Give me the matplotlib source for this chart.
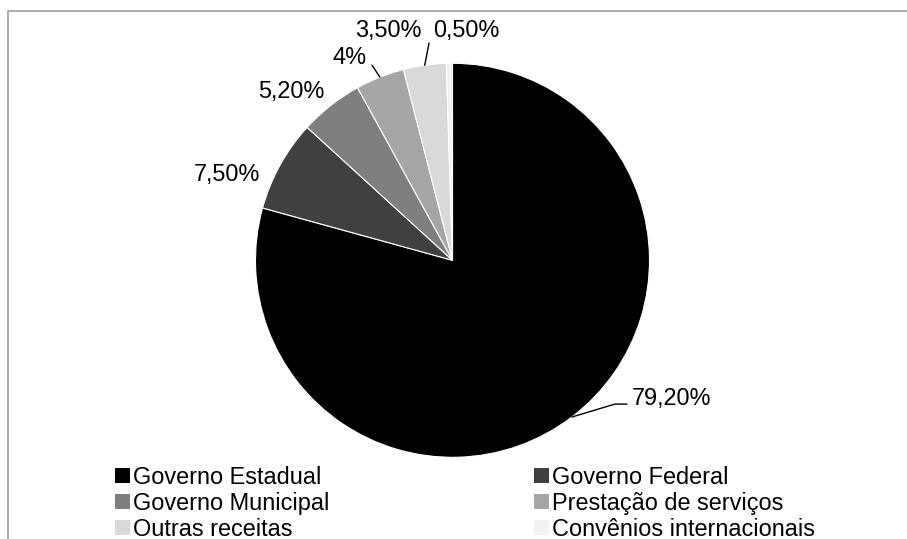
import matplotlib
matplotlib.use("Agg")
import matplotlib.pyplot as plt
from matplotlib.patches import Patch, Rectangle
import numpy as np

plt.rcParams['font.family'] = ['Liberation Sans', 'DejaVu Sans']

categories = ["Governo Estadual", "Governo Federal", "Governo Municipal",
              "Prestação de serviços", "Outras receitas", "Convênios internacionais"]
values = [79.2, 7.5, 5.2, 4.0, 3.5, 0.5]
value_labels = ["79,20%", "7,50%", "5,20%", "4%", "3,50%", "0,50%"]
colors = ["#000000", "#404040", "#7f7f7f", "#a6a6a6", "#d9d9d9", "#f2f2f2"]

# label layout (axes data units, radius = 1)
label_pos = [(0.911, -0.7345), (-1.147, 0.4025), (-0.817, 0.824),
             (-0.525, 0.9964), (-0.327, 1.1335), (0.068, 1.1335)]
label_ha = ["left", "center", "center", "center", "center", "center"]
leader_end = [(0.886, -0.730), None, None, (-0.409, 0.991), (-0.119, 1.103), None]

FS = 16.9
W, H = 907, 539
fig = plt.figure(figsize=(W / 100, H / 100), dpi=100)

# chart border (top and left visible)
fig.add_artist(Rectangle((8 / W, -0.1), 1.2, 1.1 - 11 / H, transform=fig.transFigure,
                         fill=False, edgecolor="#a0a0a0", linewidth=1.2))

cx, cy, r = 452.5, 260.3, 197.0
ax = fig.add_axes([(cx - r) / W, (H - cy - r) / H, 2 * r / W, 2 * r / H])
wedges, _ = ax.pie(values, colors=colors, startangle=90, counterclock=False, radius=1,
                   wedgeprops=dict(edgecolor="white", linewidth=0.8))
ax.set_xlim(-1, 1)
ax.set_ylim(-1, 1)
ax.set_aspect("equal")
ax.set_axis_off()

for w, lab, pos, ha, le in zip(wedges, value_labels, label_pos, label_ha, leader_end):
    mid = np.deg2rad((w.theta1 + w.theta2) / 2)
    edge = (np.cos(mid), np.sin(mid))
    ax.text(pos[0], pos[1], lab, ha=ha, va="baseline", fontsize=FS, color="black", clip_on=False)
    if le is not None:
        if ha == "left":
            cs = "angle,angleA=180,angleB=16.7,rad=0"
        else:
            cs = "arc3,rad=0"
        ax.annotate("", xy=edge, xytext=le,
                    arrowprops=dict(arrowstyle="-", color="black", lw=1.0,
                                    shrinkA=0, shrinkB=0, connectionstyle=cs),
                    annotation_clip=False)

order = [0, 2, 4, 1, 3, 5]
handles = [Patch(facecolor=colors[i], edgecolor="none", label=categories[i]) for i in order]
fig.legend(handles=handles, ncol=2, loc="upper left",
           bbox_to_anchor=(115 / W, 1 - 466 / H), frameon=False, fontsize=FS,
           handlelength=0.62, handleheight=0.6, handletextpad=0.13,
           columnspacing=8.75, labelspacing=0.12, borderpad=0, borderaxespad=0)

fig.savefig("out.png", dpi=100, facecolor="white")
